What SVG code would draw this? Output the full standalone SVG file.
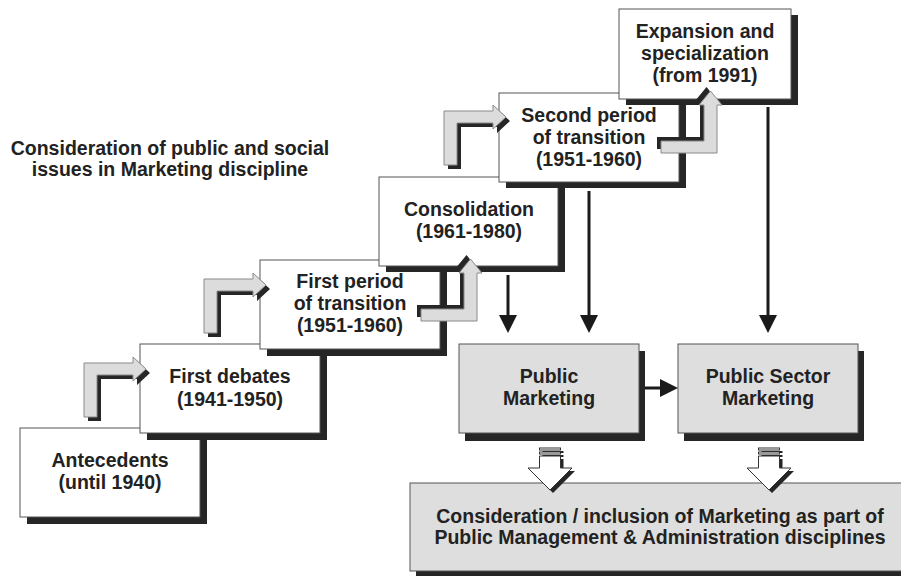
<svg xmlns="http://www.w3.org/2000/svg" width="901" height="576" viewBox="0 0 901 576">
<style>
  text { font-family: "Liberation Sans", Arial, sans-serif; font-weight: bold; font-size: 19.5px; fill: #222; text-anchor: middle; }
  .box { fill: #fff; stroke: #555; stroke-width: 1; }
  .gbox { fill: #dedede; stroke: #555; stroke-width: 1; }
  .sh { fill: #262626; }
  .bent { fill: #dcdcdc; stroke: #8a8a8a; stroke-width: 1; }
  .bentsh { fill: #262626; }
  .line { stroke: #1a1a1a; stroke-width: 3; fill: none; marker-end: url(#ah); }
  .open { fill: #fff; stroke: #333; stroke-width: 1; }
</style>
<defs>
  <marker id="ah" viewBox="0 0 18 18" refX="8" refY="9" markerWidth="18" markerHeight="18" markerUnits="userSpaceOnUse" orient="auto">
    <path d="M0,0 L18,9 L0,18 z" fill="#1a1a1a"/>
  </marker>
  <polygon id="bentA" points="0,0 49,0 49,-6 62,6 49,18 49,12 13,12 13,54 0,54"/>
  <polygon id="bentB" points="0,0 -56,0 -56,-12 -13,-12 -13,-48 -18,-48 -6.5,-62 5,-48 0,-48"/>
  <g id="openArrow">
    <g transform="translate(3,3)" fill="#262626">
      <rect x="-10.5" y="0" width="21" height="2"/>
      <rect x="-10.5" y="4" width="21" height="2"/>
      <polygon points="-10.5,8 10.5,8 10.5,20 22,20 0,42 -22,20 -10.5,20"/>
    </g>
    <rect class="open" x="-10.5" y="0" width="21" height="2"/>
    <rect class="open" x="-10.5" y="4" width="21" height="2"/>
    <polygon class="open" points="-10.5,8 10.5,8 10.5,20 22,20 0,42 -22,20 -10.5,20"/>
  </g>
</defs>
<rect width="901" height="576" fill="#fff"/>

<g id="title">
  <text x="170" y="155">Consideration of public and social</text>
  <text x="170" y="176">issues in Marketing discipline</text>
</g>

<g id="antecedents">
  <rect class="sh" x="27" y="435" width="180" height="89"/>
  <rect class="box" x="20" y="428" width="180" height="89"/>
  <text x="110" y="467">Antecedents</text>
  <text x="110" y="489">(until 1940)</text>
</g>
<g id="first-debates">
  <rect class="sh" x="147" y="351" width="180" height="89"/>
  <rect class="box" x="140" y="344" width="180" height="89"/>
  <text x="230" y="383">First debates</text>
  <text x="230" y="406">(1941-1950)</text>
</g>
<g id="first-period">
  <rect class="sh" x="267" y="267" width="180" height="89"/>
  <rect class="box" x="260" y="260" width="180" height="89"/>
  <text x="350" y="288">First period</text>
  <text x="350" y="310">of transition</text>
  <text x="350" y="332">(1951-1960)</text>
</g>
<g id="consolidation">
  <rect class="sh" x="386" y="183" width="179" height="89"/>
  <rect class="box" x="379" y="177" width="179" height="89"/>
  <text x="469" y="216">Consolidation</text>
  <text x="469" y="238">(1961-1980)</text>
</g>
<g id="second-period">
  <rect class="sh" x="506" y="99" width="180" height="89"/>
  <rect class="box" x="499" y="93" width="180" height="89"/>
  <text x="589" y="122">Second period</text>
  <text x="589" y="144">of transition</text>
  <text x="589" y="166">(1951-1960)</text>
</g>
<g id="expansion">
  <rect class="sh" x="626" y="15" width="172" height="90"/>
  <rect class="box" x="619" y="9" width="172" height="90"/>
  <text x="705" y="38">Expansion and</text>
  <text x="705" y="60">specialization</text>
  <text x="705" y="82">(from 1991)</text>
</g>

<g id="public-marketing">
  <rect class="sh" x="465" y="351" width="180" height="90"/>
  <rect class="gbox" x="459" y="344" width="180" height="89"/>
  <text x="549" y="383">Public</text>
  <text x="549" y="405">Marketing</text>
</g>
<g id="public-sector-marketing">
  <rect class="sh" x="684" y="351" width="180" height="90"/>
  <rect class="gbox" x="678" y="344" width="180" height="89"/>
  <text x="768" y="383">Public Sector</text>
  <text x="768" y="405">Marketing</text>
</g>
<g id="inclusion">
  <rect class="sh" x="416" y="489" width="500" height="90"/>
  <rect class="gbox" x="410" y="483" width="500" height="88"/>
  <text x="660" y="523">Consideration / inclusion of Marketing as part of</text>
  <text x="660" y="544">Public Management &amp; Administration disciplines</text>
</g>

<g id="connectors">
  <use href="#bentA" class="bentsh" transform="translate(88,367)"/>
  <use href="#bentA" class="bent" transform="translate(84,363)"/>
  <use href="#bentA" class="bentsh" transform="translate(208,283)"/>
  <use href="#bentA" class="bent" transform="translate(204,279)"/>
  <use href="#bentA" class="bentsh" transform="translate(448,115)"/>
  <use href="#bentA" class="bent" transform="translate(444,111)"/>
  <use href="#bentB" class="bentsh" transform="translate(473,317)"/>
  <use href="#bentB" class="bent" transform="translate(477,321)"/>
  <use href="#bentB" class="bentsh" transform="translate(713,149)"/>
  <use href="#bentB" class="bent" transform="translate(717,153)"/>

  <line class="line" x1="508" y1="275" x2="508" y2="323"/>
  <line class="line" x1="589" y1="191" x2="589" y2="323"/>
  <line class="line" x1="768" y1="107" x2="768" y2="323"/>
  <line class="line" x1="645" y1="388" x2="668" y2="388"/>

  <use href="#openArrow" transform="translate(550,448)"/>
  <use href="#openArrow" transform="translate(769,448)"/>
</g>
</svg>
